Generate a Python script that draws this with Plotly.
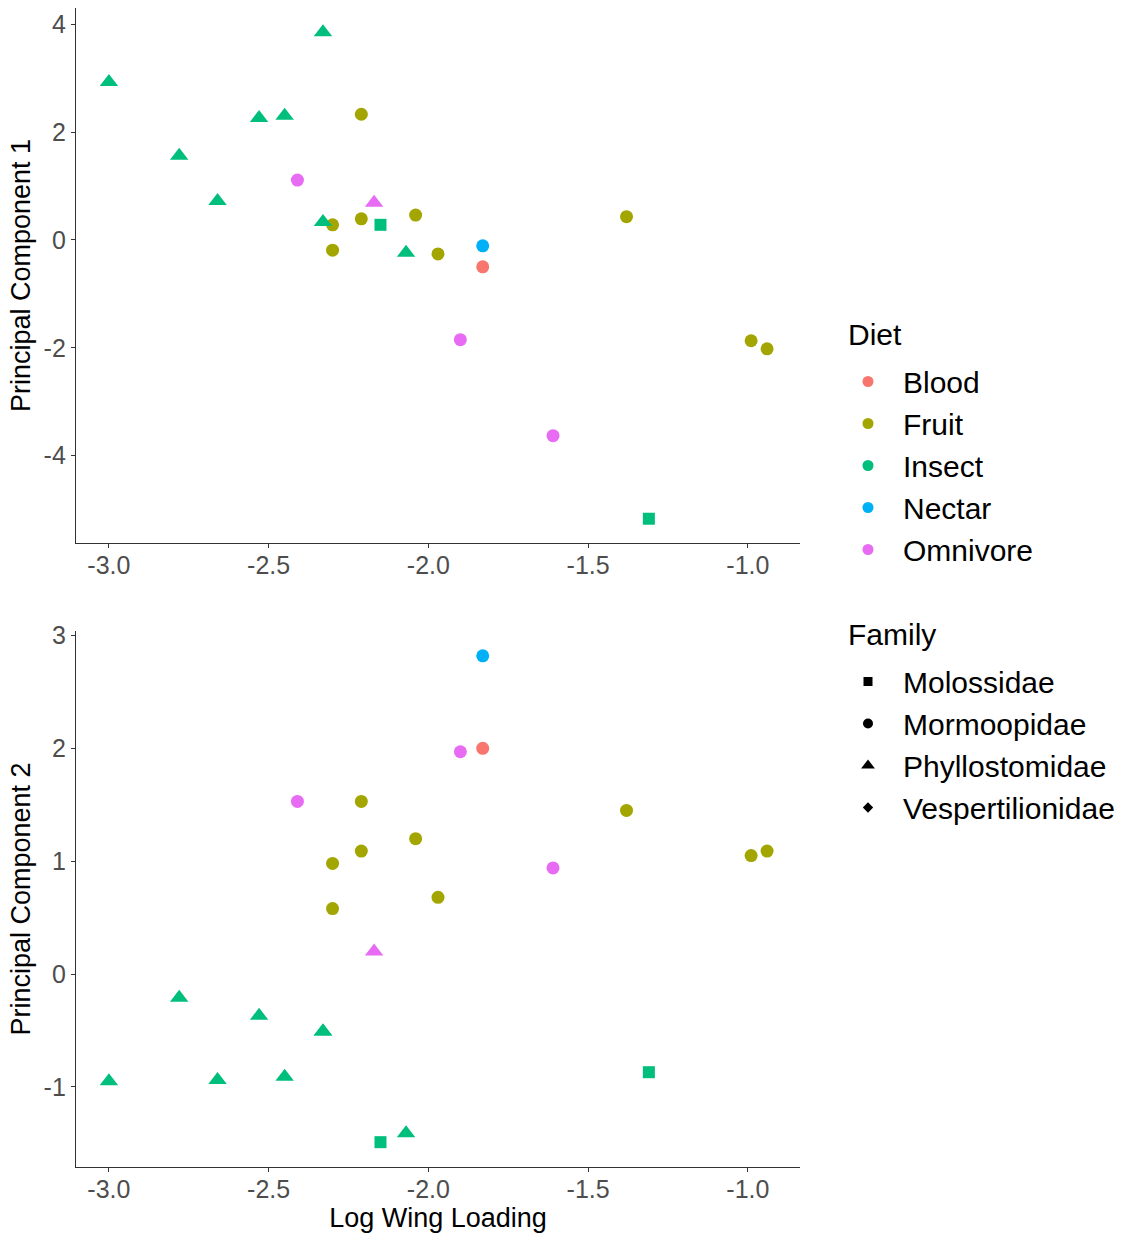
import plotly.graph_objects as go

# ---- data ----
log_wing = [-3.00, -2.78, -2.66, -2.53, -2.45, -2.33, -2.33, -2.07, -2.17, -2.15, -1.31,
            -2.41, -2.21, -2.30, -2.30, -2.21, -2.04, -1.97, -1.83, -1.83, -1.90, -1.61,
            -1.38, -0.99, -0.94]
pc1 = [2.93, 1.56, 0.72, 2.26, 2.30, 3.85, 0.33, -0.24, 0.69, 0.28, -5.17,
       1.11, 2.33, 0.28, -0.19, 0.39, 0.46, -0.26, -0.11, -0.50, -1.85, -3.63,
       0.43, -1.87, -2.02]
pc2 = [-0.95, -0.21, -0.94, -0.37, -0.91, -0.51, -0.51, -1.41, 0.20, -1.49, -0.87,
       1.53, 1.53, 0.98, 0.58, 1.09, 1.20, 0.68, 2.82, 2.00, 1.97, 0.94,
       1.45, 1.05, 1.09]
diet = ["Insect"] * 8 + ["Omnivore", "Insect", "Insect",
        "Omnivore", "Fruit", "Fruit", "Fruit", "Fruit", "Fruit", "Fruit", "Nectar", "Blood",
        "Omnivore", "Omnivore", "Fruit", "Fruit", "Fruit"]
family = ["Phyllostomidae"] * 9 + ["Molossidae", "Molossidae"] + ["Mormoopidae"] * 14

diet_levels = ["Blood", "Fruit", "Insect", "Nectar", "Omnivore"]
family_levels = ["Molossidae", "Mormoopidae", "Phyllostomidae", "Vespertilionidae"]

x_ticks = [-3.0, -2.5, -2.0, -1.5, -1.0]
x_ticktext = ["-3.0", "-2.5", "-2.0", "-1.5", "-1.0"]
y1_ticks = [-4, -2, 0, 2, 4]
y1_ticktext = ["-4", "-2", "0", "2", "4"]
y2_ticks = [-1, 0, 1, 2, 3]
y2_ticktext = ["-1", "0", "1", "2", "3"]

diet_colors = {"Blood": "#F8766D", "Fruit": "#A3A500", "Insect": "#00BF7D",
               "Nectar": "#00B0F6", "Omnivore": "#E76BF3"}
family_symbols = {"Molossidae": "square", "Mormoopidae": "circle",
                  "Phyllostomidae": "triangle-up", "Vespertilionidae": "diamond"}
family_sizes = {"Molossidae": 12, "Mormoopidae": 13,
                "Phyllostomidae": 16, "Vespertilionidae": 10}

fig = go.Figure()

for ya, yvals in (("y", pc1), ("y2", pc2)):
    xa = "x" if ya == "y" else "x2"
    for fam in family_levels:
        for d in diet_levels:
            idx = [i for i in range(len(log_wing)) if family[i] == fam and diet[i] == d]
            if not idx:
                continue
            fig.add_trace(go.Scatter(
                x=[log_wing[i] for i in idx], y=[yvals[i] for i in idx],
                xaxis=xa, yaxis=ya, mode="markers", showlegend=False,
                marker=dict(color=diet_colors[d], symbol=family_symbols[fam],
                            size=family_sizes[fam], line=dict(width=0)),
                hoverinfo="skip"))

# legend entries
for d in diet_levels:
    fig.add_trace(go.Scatter(x=[None], y=[None], mode="markers", name=d, legend="legend",
                             marker=dict(color=diet_colors[d], symbol="circle", size=11)))
leg_sizes = {"Molossidae": 9, "Mormoopidae": 10, "Phyllostomidae": 12, "Vespertilionidae": 8}
for fam in family_levels:
    fig.add_trace(go.Scatter(x=[None], y=[None], mode="markers", name=fam, legend="legend2",
                             marker=dict(color="black", symbol=family_symbols[fam],
                                         size=leg_sizes[fam])))

axis_common = dict(showline=True, linecolor="#333333", linewidth=1.3, showgrid=False,
                   zeroline=False, ticks="outside", ticklen=4, tickwidth=1.1,
                   tickcolor="#333333", mirror=False, automargin=False,
                   tickfont=dict(family="Liberation Sans", size=25, color="#4D4D4D"))

top_dom = [(1167 - 543) / 1159, 1.0]
bot_dom = [0.0, (1167 - 631) / 1159]

W = 724.0
H = 1159.0


def px_x(px):
    return (px - 76) / W


def px_y(py):
    return (1167 - py) / H


leg_x = px_x(833)

fig.update_layout(
    width=1128, height=1234,
    margin=dict(l=76, r=328, t=8, b=67, autoexpand=False),
    paper_bgcolor="white", plot_bgcolor="white",
    font=dict(family="Liberation Sans", color="black"),
    xaxis=dict(axis_common, domain=[0, 1], anchor="y", range=[-3.103, -0.837],
               tickvals=x_ticks, ticktext=x_ticktext, ticklabelstandoff=-4),
    yaxis=dict(axis_common, domain=top_dom, anchor="x", range=[-5.62, 4.30],
               tickvals=y1_ticks, ticktext=y1_ticktext,
               title=dict(text="Principal Component 1", font=dict(size=27, color="black"), standoff=5)),
    xaxis2=dict(axis_common, domain=[0, 1], anchor="y2", range=[-3.103, -0.837],
                tickvals=x_ticks, ticktext=x_ticktext, ticklabelstandoff=-4,
                title=dict(text="Log Wing Loading", font=dict(size=27, color="black"), standoff=1)),
    yaxis2=dict(axis_common, domain=bot_dom, anchor="x2", range=[-1.71, 3.04],
                tickvals=y2_ticks, ticktext=y2_ticktext,
                title=dict(text="Principal Component 2", font=dict(size=27, color="black"), standoff=5)),
    legend=dict(font=dict(size=30), x=leg_x, xanchor="left",
                y=px_y(465.5), yanchor="middle",
                itemwidth=60, bgcolor="rgba(0,0,0,0)", tracegroupgap=0),
    legend2=dict(font=dict(size=30), x=leg_x, xanchor="left",
                 y=px_y(744.5), yanchor="middle",
                 itemwidth=60, bgcolor="rgba(0,0,0,0)", tracegroupgap=0),
    annotations=[
        dict(text="Diet", xref="paper", yref="paper", x=px_x(846), y=px_y(335),
             xanchor="left", yanchor="middle", showarrow=False, font=dict(size=30, color="black")),
        dict(text="Family", xref="paper", yref="paper", x=px_x(846), y=px_y(634),
             xanchor="left", yanchor="middle", showarrow=False, font=dict(size=30, color="black")),
    ],
)

fig.write_html("out.html")
